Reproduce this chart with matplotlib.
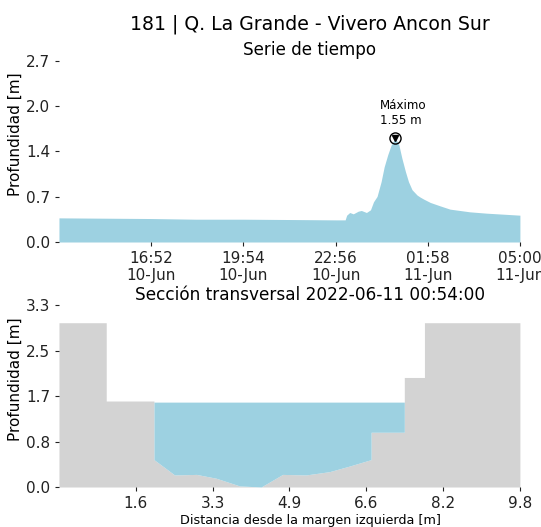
import numpy as np
import pandas as pd
import matplotlib
matplotlib.use('Agg')
from matplotlib import pyplot as plt
import matplotlib.dates as mdates

# time series
serieTimes = ['2022-06-10 13:50', '2022-06-10 15:20', '2022-06-10 16:52', '2022-06-10 18:20',
              '2022-06-10 19:54', '2022-06-10 21:30', '2022-06-10 22:56', '2022-06-10 23:15',
              '2022-06-10 23:18', '2022-06-10 23:24', '2022-06-10 23:31', '2022-06-10 23:41',
              '2022-06-10 23:47', '2022-06-10 23:57', '2022-06-11 00:05', '2022-06-11 00:11',
              '2022-06-11 00:18', '2022-06-11 00:26', '2022-06-11 00:32', '2022-06-11 00:39',
              '2022-06-11 00:46', '2022-06-11 00:54', '2022-06-11 01:01', '2022-06-11 01:07',
              '2022-06-11 01:14', '2022-06-11 01:20', '2022-06-11 01:27', '2022-06-11 01:37',
              '2022-06-11 01:43', '2022-06-11 01:50', '2022-06-11 02:03', '2022-06-11 02:22',
              '2022-06-11 02:42', '2022-06-11 03:21', '2022-06-11 03:54', '2022-06-11 05:00']
serieDepth = [0.36, 0.355, 0.35, 0.34,
              0.34, 0.335, 0.33, 0.33,
              0.40, 0.44, 0.42, 0.46,
              0.47, 0.44, 0.48, 0.60,
              0.68, 0.90, 1.12, 1.30,
              1.45, 1.55, 1.45, 1.25,
              1.05, 0.90, 0.78, 0.70,
              0.67, 0.64, 0.59, 0.54,
              0.49, 0.45, 0.43, 0.40]
timeTicks = ['2022-06-10 16:52', '2022-06-10 19:54', '2022-06-10 22:56',
             '2022-06-11 01:58', '2022-06-11 05:00']
timeStart = '2022-06-10 13:50'
serieYTicks = [0.0, 0.675, 1.35, 2.025, 2.7]
serieYLabels = ['0.0', '0.7', '1.4', '2.0', '2.7']

# cross section
secX = [0, 1.01, 1.01, 2.03, 2.03, 2.47, 2.94, 3.36, 3.86, 4.32, 4.78, 5.28, 5.78, 6.20,
        6.67, 6.67, 7.38, 7.38, 7.81, 7.81, 9.85]
secY = [3.0, 3.0, 1.57, 1.57, 0.50, 0.22, 0.23, 0.16, 0.02, 0.0, 0.23, 0.22, 0.28, 0.38,
        0.50, 1.0, 1.0, 2.0, 2.0, 3.0, 3.0]
waterLevel = 1.55
secXTicks = [1.642, 3.283, 4.925, 6.567, 8.208, 9.85]
secXLabels = ['1.6', '3.3', '4.9', '6.6', '8.2', '9.8']
secYTicks = [0.0, 0.83, 1.66, 2.49, 3.32]
secYLabels = ['0.0', '0.8', '1.7', '2.5', '3.3']

waterColor = '#9dd1e1'
groundColor = '#d3d3d3'
# labels/titles sit a bit right of the axes middle in the original
xMid = 0.5445


def cleanAxes(ax):
  for s in ax.spines.values():
    s.set_visible(False)
  ax.tick_params(axis='both', length=3, width=0.8, labelsize=11, colors='#222222')


def plotAll():
  fg = plt.figure(figsize=(5.41, 5.27), dpi=100)
  fg.text(0.573, 0.972, '181 | Q. La Grande - Vivero Ancon Sur', fontsize=13.6,
          ha='center', va='top')

  # time series
  ax = fg.add_axes([0.109, 0.5408, 0.852, 0.3435])
  tt = pd.to_datetime(serieTimes)
  dd = np.array(serieDepth)
  ax.fill_between(tt, 0, dd, color=waterColor, lw=0)
  ax.set_xlim(pd.Timestamp(timeStart), tt[-1])
  ax.set_ylim(0, serieYTicks[-1])
  ax.set_yticks(serieYTicks)
  ax.set_yticklabels(serieYLabels)
  ax.set_xticks(pd.to_datetime(timeTicks))
  ax.xaxis.set_major_formatter(mdates.DateFormatter('%H:%M\n%d-%b'))
  cleanAxes(ax)
  ax.set_title('Serie de tiempo', fontsize=12.1, pad=4, x=xMid)
  ax.set_ylabel('Profundidad [m]', fontsize=11)
  ax.yaxis.set_label_coords(-0.078, 0.597)
  imx = int(np.argmax(dd))
  ax.plot(tt[imx], dd[imx], marker='o', ms=8, mfc='none', mec='k', mew=1.0)
  ax.plot(tt[imx], dd[imx], marker='v', ms=4.5, color='k')
  ax.annotate('Máximo\n%.2f m' % dd[imx], xy=(tt[imx], dd[imx]), xytext=(-11, 8),
              textcoords='offset points', ha='left', va='bottom', fontsize=8.6)

  # cross section
  ax = fg.add_axes([0.109, 0.0759, 0.852, 0.345])
  xs = np.array(secX)
  ys = np.array(secY)
  ax.fill_between(xs, 0, ys, color=groundColor, lw=0)
  ax.fill_between(xs, ys, waterLevel, where=ys < waterLevel, interpolate=True,
                  color=waterColor, lw=0)
  ax.set_xlim(0, secXTicks[-1])
  ax.set_ylim(0, secYTicks[-1])
  ax.set_xticks(secXTicks)
  ax.set_xticklabels(secXLabels)
  ax.set_yticks(secYTicks)
  ax.set_yticklabels(secYLabels)
  cleanAxes(ax)
  ax.set_title('Sección transversal 2022-06-11 00:54:00', fontsize=12.2, pad=4, x=xMid)
  ax.set_ylabel('Profundidad [m]', fontsize=11)
  ax.yaxis.set_label_coords(-0.078, 0.593)
  ax.set_xlabel('Distancia desde la margen izquierda [m]', fontsize=9.2, labelpad=2)
  ax.xaxis.set_label_coords(xMid, -0.15)

  fg.savefig('out.png', dpi=100)


plotAll()
